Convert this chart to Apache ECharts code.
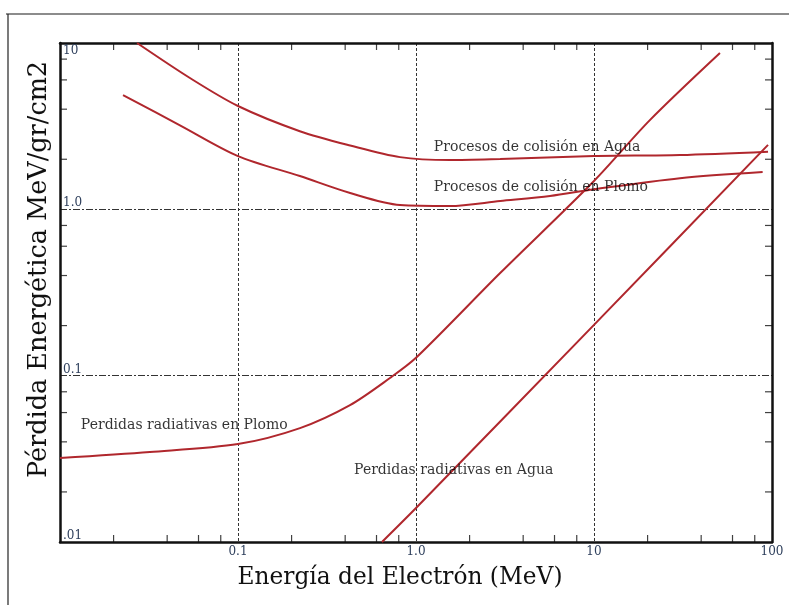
<!DOCTYPE html>
<html>
<head>
<meta charset="utf-8">
<script src="https://cdn.jsdelivr.net/npm/echarts@6/dist/echarts.min.js"></script>
<style>
  html, body { margin: 0; padding: 0; background: #ffffff; }
  #chart { width: 789px; height: 605px; }
</style>
</head>
<body>
<div id="chart"></div>
<script>
// Stopping power of electrons (MeV per g/cm2) against electron energy (MeV)

// Collision losses in water
const aguaColisionE = [0.0271, 0.0537, 0.1, 0.2225, 0.4266, 0.813, 1.55, 2.97, 10, 30.4, 95];
const aguaColisionV = [10, 6.16, 4.18, 2.95, 2.42, 2.06, 1.98, 2.01, 2.09, 2.12, 2.22];

// Collision losses in lead
const plomoColisionE = [0.0226, 0.0472, 0.1, 0.2225, 0.4266, 0.813, 1.55, 2.97, 5.66, 10, 30.4, 88.6];
const plomoColisionV = [4.86, 3.2, 2.09, 1.585, 1.253, 1.061, 1.047, 1.122, 1.202, 1.32, 1.54, 1.676];

// Radiative losses in lead
const plomoRadiativaE = [0.01, 0.032, 0.1, 0.223, 0.426, 0.714, 1.0, 2.97, 10, 20.6, 51];
const plomoRadiativaV = [0.032, 0.0348, 0.0388, 0.0484, 0.0665, 0.0968, 0.128, 0.414, 1.48, 3.44, 8.71];

// Radiative losses in water
const aguaRadiativaE = [0.644, 1.0, 10, 95];
const aguaRadiativaV = [0.01, 0.016, 0.202, 2.44];

// Curve annotations (text, anchor energy, anchor value)
const notaTextos = ['Procesos de colisión en Agua', 'Procesos de colisión en Plomo',
                    'Perdidas radiativas en Plomo', 'Perdidas radiativas en Agua'];
const notaE = [1.26, 1.26, 0.0131, 0.449];
const notaV = [2.37, 1.36, 0.0505, 0.027];

// Tick labels per decade exponent
const etiquetasX = { '-2': '', '-1': '0.1', '0': '1.0', '1': '10', '2': '100' };
const etiquetasY = { '-2': '.01', '-1': '0.1', '0': '1.0', '1': '10' };

// Minor tick values (2, 4, 6, 8 of each decade)
const menoresX = [0.02, 0.04, 0.06, 0.08, 0.2, 0.4, 0.6, 0.8, 2, 4, 6, 8, 20, 40, 60, 80];
const menoresY = [0.02, 0.04, 0.06, 0.08, 0.2, 0.4, 0.6, 0.8, 2, 4, 6, 8];

const X_MIN = 0.01, X_MAX = 100, Y_MIN = 0.01, Y_MAX = 10;

const SERIF = 'DejaVu Serif';
const CURVE = '#b0272d';
const FRAME = '#111111';
const TICK_TEXT = '#2e3f5c';

const pairs = (xs, ys) => xs.map((x, i) => [x, ys[i]]);
const exp10 = v => String(Math.round(Math.log10(v)));

function curve(name, xs, ys) {
  return {
    name, type: 'line', data: pairs(xs, ys),
    xAxisIndex: 0, yAxisIndex: 0,
    smooth: 0.3, showSymbol: false, symbol: 'none',
    lineStyle: { color: CURVE, width: 2 },
    z: 5, silent: true
  };
}

function tickSeries(data, size, offset) {
  return {
    type: 'scatter', data, xAxisIndex: 0, yAxisIndex: 0,
    symbol: 'rect', symbolSize: size, symbolOffset: offset,
    itemStyle: { color: FRAME }, clip: false, silent: true, z: 6
  };
}

const frameAxisLine = { show: true, onZero: false, lineStyle: { color: FRAME, width: 2.5 } };

const option = {
  animation: false,
  backgroundColor: '#ffffff',
  grid: { left: 60, top: 43, right: 17, bottom: 63, containLabel: false },
  xAxis: [
    {
      type: 'log', logBase: 10, min: X_MIN, max: X_MAX, position: 'bottom',
      axisLine: frameAxisLine,
      axisTick: { show: false },
      axisLabel: {
        show: true, margin: 4, showMinLabel: true, showMaxLabel: true,
        fontFamily: SERIF, fontSize: 12, color: TICK_TEXT,
        formatter: v => etiquetasX[exp10(v)] || ''
      },
      splitLine: { show: true, lineStyle: { color: '#333', width: 1, type: [3, 2] } },
      name: 'Energía del Electrón (MeV)', nameLocation: 'middle', nameGap: 24,
      nameTextStyle: { fontFamily: SERIF, fontSize: 23.3, color: '#111', verticalAlign: 'top', padding: [0, 32, 0, 0] }
    },
    {
      type: 'log', logBase: 10, min: X_MIN, max: X_MAX, position: 'top',
      axisLine: frameAxisLine, axisTick: { show: false }, axisLabel: { show: false },
      splitLine: { show: false }
    }
  ],
  yAxis: [
    {
      type: 'log', logBase: 10, min: Y_MIN, max: Y_MAX, position: 'left',
      axisLine: frameAxisLine,
      axisTick: { show: false },
      axisLabel: {
        show: true, inside: true, margin: 3, verticalAlign: 'bottom', align: 'left',
        showMinLabel: true, showMaxLabel: true,
        fontFamily: SERIF, fontSize: 12, color: TICK_TEXT,
        formatter: v => (exp10(v) === '1' ? '' : (etiquetasY[exp10(v)] || ''))
      },
      splitLine: { show: true, lineStyle: { color: '#333', width: 1, type: [7, 2, 2, 2] } },
      name: 'Pérdida Energética MeV/gr/cm2', nameLocation: 'middle', nameGap: 8,
      nameRotate: 90,
      nameTextStyle: { fontFamily: SERIF, fontSize: 25.5, color: '#111', padding: [0, 0, 0, 46] }
    },
    {
      type: 'log', logBase: 10, min: Y_MIN, max: Y_MAX, position: 'right',
      axisLine: frameAxisLine, axisTick: { show: false }, axisLabel: { show: false },
      splitLine: { show: false }
    },
    {
      type: 'log', logBase: 10, min: Y_MIN, max: Y_MAX, position: 'left',
      axisLine: { show: false }, axisTick: { show: false }, splitLine: { show: false },
      axisLabel: {
        show: true, inside: true, margin: 3, verticalAlign: 'top', align: 'left',
        showMinLabel: true, showMaxLabel: true, padding: [2, 0, 0, 0],
        fontFamily: SERIF, fontSize: 12, color: TICK_TEXT,
        formatter: v => (exp10(v) === '1' ? etiquetasY['1'] : '')
      }
    }
  ],
  graphic: [
    { type: 'line', shape: { x1: 6, y1: 14, x2: 789, y2: 14 }, style: { stroke: '#666', lineWidth: 1.5 }, silent: true },
    { type: 'line', shape: { x1: 8, y1: 14, x2: 8, y2: 605 }, style: { stroke: '#222', lineWidth: 1.2 }, silent: true }
  ],
  series: [
    curve('Colisión Agua', aguaColisionE, aguaColisionV),
    curve('Colisión Plomo', plomoColisionE, plomoColisionV),
    curve('Radiativa Plomo', plomoRadiativaE, plomoRadiativaV),
    curve('Radiativa Agua', aguaRadiativaE, aguaRadiativaV),
    tickSeries(menoresX.map(v => [v, Y_MIN]), [1.2, 7], [0, -3.5]),
    tickSeries(menoresX.map(v => [v, Y_MAX]), [1.2, 7], [0, 3.5]),
    tickSeries(menoresY.map(v => [X_MIN, v]), [7, 1.2], [3.5, 0]),
    tickSeries(menoresY.map(v => [X_MAX, v]), [7, 1.2], [-3.5, 0]),
    {
      type: 'scatter', xAxisIndex: 0, yAxisIndex: 0, symbolSize: 0, silent: true, z: 7,
      data: notaTextos.map((t, i) => ({ name: t, value: [notaE[i], notaV[i]] })),
      label: {
        show: true, position: 'right', distance: 0, formatter: p => p.name,
        fontFamily: SERIF, fontSize: 14, color: '#000', verticalAlign: 'middle'
      }
    }
  ]
};

const chart = echarts.init(document.getElementById('chart'), null, { renderer: 'canvas' });
chart.setOption(option);
</script>
</body>
</html>
